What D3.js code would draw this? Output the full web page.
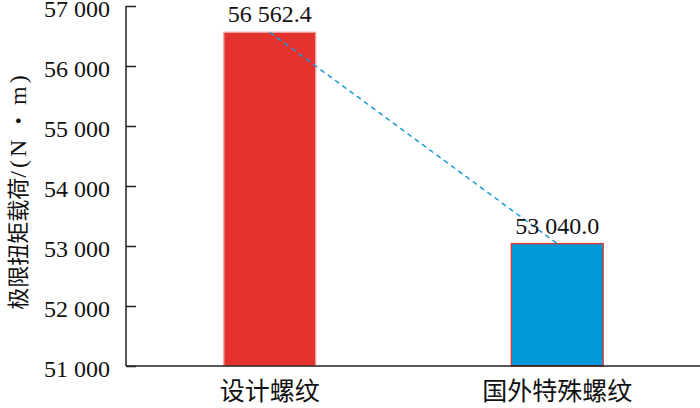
<!DOCTYPE html>
<html>
<head>
<meta charset="utf-8">
<script src="https://cdn.jsdelivr.net/npm/d3@7"></script>
<style>
  body { margin: 0; background: #fff; }
  svg { display: block; }
</style>
</head>
<body>
<svg id="chart" width="700" height="408"></svg>
<script>
'use strict';

var categories = ['设计螺纹', '国外特殊螺纹'];
var values = [56562.4, 53040.0];
var valueLabels = ['56 562.4', '53 040.0'];
var yTicks = [51000, 52000, 53000, 54000, 55000, 56000, 57000];
var yTickLabels = ['51 000', '52 000', '53 000', '54 000', '55 000', '56 000', '57 000'];
var fills = ['#e5322f', '#0099d5'];
var strokes = ['#f3a7a5', '#e5322f'];

var serif = '"Liberation Serif", "Times New Roman", Times, serif';
var cjk = '"Noto Sans CJK SC", sans-serif';

(function() {
  var svg = d3.select('#chart');
  var plotLeft = 126, plotRight = 701, plotTop = 6, plotBottom = 366;

  var x = d3.scaleBand()
    .domain(categories)
    .range([plotLeft, plotRight])
    .paddingInner(0.677)
    .paddingOuter(0.3385);

  var y = d3.scaleLinear()
    .domain([51000, 57000])
    .range([plotBottom, plotTop]);

  // bars
  svg.append('g').selectAll('rect')
    .data(values)
    .enter().append('rect')
      .attr('x', function(d, i) { return x(categories[i]) + 0.5; })
      .attr('y', function(d) { return y(d); })
      .attr('width', x.bandwidth() - 1)
      .attr('height', function(d) { return plotBottom - y(d); })
      .attr('fill', function(d, i) { return fills[i]; })
      .attr('stroke', function(d, i) { return strokes[i]; })
      .attr('stroke-width', 1.3);

  // dashed trend line between bar tops
  var line = d3.line()
    .x(function(d, i) { return x(categories[i]) + x.bandwidth() / 2; })
    .y(function(d) { return y(d); });

  svg.append('path')
    .datum(values)
    .attr('d', line)
    .attr('fill', 'none')
    .attr('stroke', '#1a9bd7')
    .attr('stroke-width', 1.5)
    .attr('stroke-dasharray', '5,4');

  // value labels
  svg.append('g').selectAll('text')
    .data(values)
    .enter().append('text')
      .style('font-family', serif)
      .style('font-size', '24px')
      .attr('fill', '#111')
      .attr('x', function(d, i) { return x(categories[i]) + x.bandwidth() / 2; })
      .attr('y', function(d) { return y(d) - 10; })
      .attr('text-anchor', 'middle')
      .text(function(d, i) { return valueLabels[i]; });

  // y axis (ticks point inward)
  var yAxis = d3.axisRight(y)
    .tickValues(yTicks)
    .tickSize(10)
    .tickFormat(function() { return ''; });

  var gy = svg.append('g')
    .attr('transform', 'translate(' + plotLeft + ',0)')
    .call(yAxis);
  gy.select('.domain').remove();
  gy.selectAll('.tick line').attr('stroke', '#222').attr('stroke-width', 1.5);

  svg.append('g').selectAll('text')
    .data(yTicks)
    .enter().append('text')
      .style('font-family', serif)
      .style('font-size', '24px')
      .attr('fill', '#111')
      .attr('x', plotLeft - 16)
      .attr('y', function(d) { return y(d); })
      .attr('dy', '0.47em')
      .attr('text-anchor', 'end')
      .text(function(d, i) { return yTickLabels[i]; });

  svg.append('line')
    .attr('x1', plotLeft).attr('x2', plotLeft)
    .attr('y1', plotTop).attr('y2', plotBottom)
    .attr('stroke', '#222').attr('stroke-width', 1.5);

  svg.append('line')
    .attr('x1', plotLeft).attr('x2', 700)
    .attr('y1', plotBottom).attr('y2', plotBottom)
    .attr('stroke', '#222').attr('stroke-width', 1.5);

  // category labels
  svg.append('g').selectAll('text')
    .data(categories)
    .enter().append('text')
      .style('font-family', cjk)
      .style('font-size', '25px')
      .attr('fill', '#111')
      .attr('x', function(d) { return x(d) + x.bandwidth() / 2; })
      .attr('y', 400)
      .attr('text-anchor', 'middle')
      .text(function(d) { return d; });

  // y title
  var title = svg.append('text')
    .attr('transform', 'translate(26,191) rotate(-90)')
    .attr('text-anchor', 'middle')
    .attr('fill', '#111');
  title.append('tspan').style('font-family', cjk).style('font-size', '22px').text('极限扭矩载荷');
  title.append('tspan').style('font-family', serif).style('font-size', '24px')
    .style('letter-spacing', '3px').text('/(N');
  title.append('tspan').style('font-family', cjk).style('font-size', '22px').text(' ・ ');
  title.append('tspan').style('font-family', serif).style('font-size', '24px')
    .style('letter-spacing', '3px').text('m)');
})();
</script>
</body>
</html>
